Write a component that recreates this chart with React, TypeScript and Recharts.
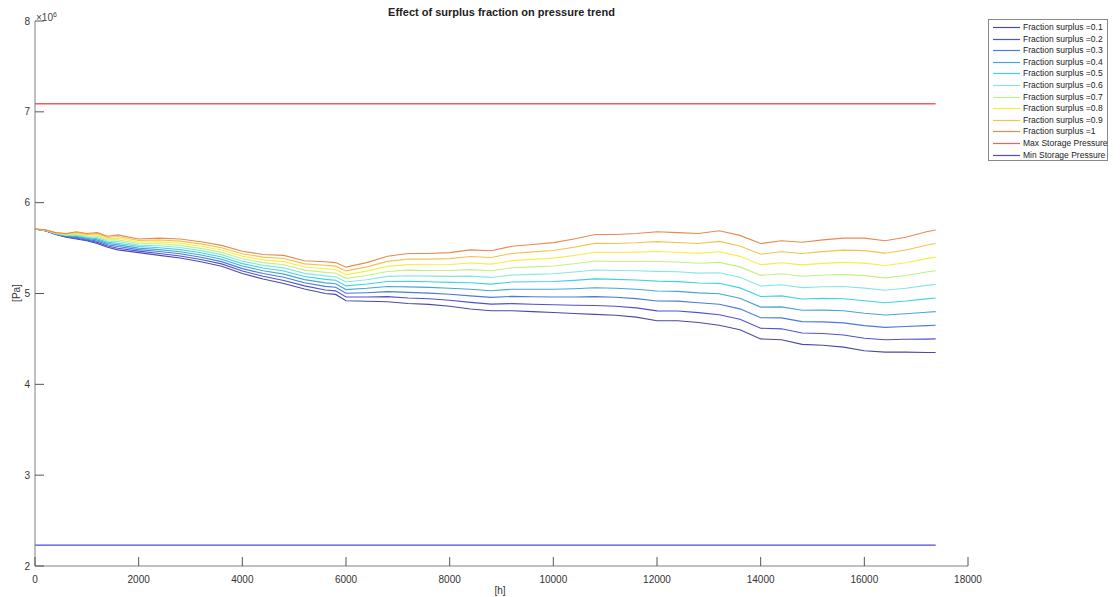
import React from "react";
import { LineChart, Line, XAxis, YAxis, Legend } from "recharts";

// hours
const hours = [0,200,400,600,800,1000,1200,1400,1600,2000,2400,2800,3200,3600,4000,4400,4800,5200,5600,5800,6000,6400,6800,7200,7600,8000,8400,8800,9200,9600,10000,10400,10800,11200,11600,12000,12400,12800,13200,13600,14000,14400,14800,15200,15600,16000,16400,16800,17200,17376];

// pressure in units of 1e6 Pa
const f01 = [5.71,5.69,5.65,5.62,5.60,5.58,5.55,5.51,5.48,5.45,5.42,5.39,5.35,5.30,5.22,5.16,5.11,5.05,5.00,4.99,4.92,4.915,4.91,4.89,4.88,4.86,4.83,4.81,4.81,4.80,4.79,4.78,4.77,4.76,4.74,4.70,4.70,4.68,4.65,4.60,4.50,4.49,4.44,4.43,4.41,4.37,4.355,4.355,4.35,4.35];
const f02 = [5.710,5.691,5.652,5.624,5.609,5.589,5.563,5.523,5.498,5.467,5.441,5.413,5.374,5.326,5.247,5.190,5.144,5.084,5.039,5.029,4.961,4.962,4.966,4.951,4.942,4.926,4.902,4.883,4.889,4.882,4.876,4.871,4.868,4.859,4.842,4.809,4.808,4.789,4.766,4.716,4.617,4.611,4.565,4.559,4.543,4.508,4.491,4.496,4.498,4.500];
const f03 = [5.710,5.692,5.654,5.629,5.618,5.598,5.577,5.537,5.517,5.483,5.462,5.437,5.399,5.351,5.274,5.220,5.179,5.119,5.078,5.068,5.002,5.009,5.021,5.012,5.004,4.991,4.974,4.957,4.968,4.964,4.961,4.962,4.966,4.958,4.944,4.918,4.916,4.898,4.881,4.831,4.733,4.732,4.690,4.688,4.677,4.646,4.627,4.636,4.646,4.650];
const f04 = [5.710,5.693,5.657,5.633,5.627,5.607,5.590,5.550,5.535,5.500,5.483,5.460,5.423,5.377,5.302,5.250,5.213,5.153,5.117,5.107,5.043,5.057,5.077,5.073,5.067,5.057,5.047,5.030,5.047,5.047,5.047,5.053,5.063,5.057,5.047,5.027,5.023,5.007,4.997,4.947,4.850,4.853,4.815,4.817,4.810,4.783,4.763,4.777,4.793,4.800];
const f05 = [5.710,5.694,5.659,5.638,5.636,5.616,5.603,5.563,5.553,5.517,5.504,5.483,5.448,5.402,5.329,5.280,5.248,5.188,5.156,5.146,5.084,5.104,5.132,5.134,5.129,5.122,5.119,5.103,5.126,5.129,5.132,5.144,5.161,5.156,5.149,5.136,5.131,5.116,5.112,5.062,4.967,4.974,4.940,4.946,4.943,4.921,4.899,4.917,4.941,4.950];
const f06 = [5.710,5.696,5.661,5.642,5.644,5.624,5.617,5.577,5.572,5.533,5.526,5.507,5.472,5.428,5.356,5.310,5.282,5.222,5.194,5.184,5.126,5.151,5.188,5.196,5.191,5.188,5.191,5.177,5.204,5.211,5.218,5.236,5.259,5.254,5.251,5.244,5.239,5.224,5.228,5.178,5.083,5.096,5.065,5.074,5.077,5.059,5.036,5.058,5.089,5.100];
const f07 = [5.710,5.697,5.663,5.647,5.653,5.633,5.630,5.590,5.590,5.550,5.547,5.530,5.497,5.453,5.383,5.340,5.317,5.257,5.233,5.223,5.167,5.198,5.243,5.257,5.253,5.253,5.263,5.250,5.283,5.293,5.303,5.327,5.357,5.353,5.353,5.353,5.347,5.333,5.343,5.293,5.200,5.217,5.190,5.203,5.210,5.197,5.172,5.198,5.237,5.250];
const f08 = [5.710,5.698,5.666,5.651,5.662,5.642,5.643,5.603,5.608,5.567,5.568,5.553,5.521,5.479,5.411,5.370,5.351,5.291,5.272,5.262,5.208,5.246,5.299,5.318,5.316,5.319,5.336,5.323,5.362,5.376,5.389,5.418,5.454,5.452,5.456,5.462,5.454,5.442,5.459,5.409,5.317,5.338,5.315,5.332,5.343,5.334,5.308,5.339,5.384,5.400];
const f09 = [5.710,5.699,5.668,5.656,5.671,5.651,5.657,5.617,5.627,5.583,5.589,5.577,5.546,5.504,5.438,5.400,5.386,5.326,5.311,5.301,5.249,5.293,5.354,5.379,5.378,5.384,5.408,5.397,5.441,5.458,5.474,5.509,5.552,5.551,5.558,5.571,5.562,5.551,5.574,5.524,5.433,5.459,5.440,5.461,5.477,5.472,5.444,5.479,5.532,5.550];
const f10 = [5.71,5.70,5.67,5.66,5.68,5.66,5.67,5.63,5.645,5.60,5.61,5.60,5.57,5.53,5.465,5.43,5.42,5.36,5.35,5.34,5.29,5.34,5.41,5.44,5.44,5.45,5.48,5.47,5.52,5.54,5.56,5.60,5.65,5.65,5.66,5.68,5.67,5.66,5.69,5.64,5.55,5.58,5.565,5.59,5.61,5.61,5.58,5.62,5.68,5.70];

const maxStoragePressure = 7.09;
const minStoragePressure = 2.23;

const xTicks = [0,2000,4000,6000,8000,10000,12000,14000,16000,18000];
const yTicks = [2,3,4,5,6,7,8];

const seriesNames = ["Fraction surplus =0.1","Fraction surplus =0.2","Fraction surplus =0.3","Fraction surplus =0.4","Fraction surplus =0.5","Fraction surplus =0.6","Fraction surplus =0.7","Fraction surplus =0.8","Fraction surplus =0.9","Fraction surplus =1"];
const seriesValues = [f01,f02,f03,f04,f05,f06,f07,f08,f09,f10];
const seriesColors = ["#4a4aa6","#5050d2","#4a7ade","#46a6d6","#40d2e2","#84e8e0","#c6ee84","#f4ee48","#f4c24a","#e88a4e"];
const maxName = "Max Storage Pressure";
const minName = "Min Storage Pressure";
const maxColor = "#ec5f62";
const minColor = "#4a4ae6";

const legendNames = [...seriesNames, maxName, minName];
const legendColors = [...seriesColors, maxColor, minColor];

const rows = hours.map((h, i) => {
  const r: any = { h, maxP: maxStoragePressure, minP: minStoragePressure };
  seriesValues.forEach((arr, k) => { r["s" + k] = arr[i]; });
  return r;
});

const FONT = "'Liberation Sans', Arial, Helvetica, sans-serif";

const XTick = (props: any) => {
  const { x, y, payload } = props;
  return (
    <g>
      <line x1={x} y1={y} x2={x} y2={y - 9} stroke="#555" strokeWidth={1} />
      <text x={x} y={y + 13} textAnchor="middle" dominantBaseline="central" fontSize={10} fill="#333" fontFamily={FONT}>{payload.value}</text>
    </g>
  );
};

const YTick = (props: any) => {
  const { x, y, payload } = props;
  return (
    <g>
      <line x1={x} y1={y} x2={x + 9} y2={y} stroke="#555" strokeWidth={1} />
      <text x={x - 5} y={y} textAnchor="end" dominantBaseline="central" fontSize={10} fill="#333" fontFamily={FONT}>{payload.value}</text>
    </g>
  );
};

const LegendBox = (props: any) => {
  const payload = props.payload || [];
  const ordered = legendNames
    .map((n) => payload.find((p: any) => p.value === n))
    .filter(Boolean);
  return (
    <div style={{ width: 120, height: 142, border: "1px solid #8a8a8a", background: "#fff", boxSizing: "border-box", position: "relative" }}>
      {ordered.map((p: any, i: number) => {
        const color = legendColors[legendNames.indexOf(p.value)];
        return (
          <div key={i} style={{ position: "absolute", left: 0, top: 2 + i * 11.6, height: 11, width: 130, display: "flex", alignItems: "center", whiteSpace: "nowrap" }}>
            <svg width={27} height={11} style={{ marginLeft: 4, display: "block" }}>
              <line x1={0} y1={5.5} x2={27} y2={5.5} stroke={color} strokeWidth={1.2} />
            </svg>
            <span style={{ marginLeft: 3, fontSize: 8.5, color: "#222", fontFamily: FONT, lineHeight: "11px" }}>{p.value}</span>
          </div>
        );
      })}
    </div>
  );
};

export default function App() {
  return (
    <div style={{ position: "absolute", left: 0, top: 0, width: 1120, height: 597, background: "#fff", fontFamily: FONT }}>
      <LineChart width={1120} height={597} data={rows} margin={{ top: 21, right: 152, bottom: 0, left: 0 }}>
        <XAxis
          dataKey="h"
          type="number"
          domain={[0, 18000]}
          ticks={xTicks}
          interval={0}
          height={31}
          tickSize={0}
          tickMargin={0}
          tick={<XTick />}
          tickLine={false}
          axisLine={{ stroke: "#808080", strokeWidth: 1 }}
        />
        <YAxis
          type="number"
          domain={[2, 8]}
          ticks={yTicks}
          interval={0}
          width={35}
          tickSize={0}
          tickMargin={0}
          tick={<YTick />}
          tickLine={false}
          axisLine={{ stroke: "#808080", strokeWidth: 1 }}
          allowDataOverflow
        />
        {seriesNames.map((name, k) => (
          <Line key={name} type="linear" dataKey={"s" + k} name={name} stroke={seriesColors[k]} strokeWidth={1.1} dot={false} isAnimationActive={false} />
        ))}
        <Line type="linear" dataKey="maxP" name={maxName} stroke={maxColor} strokeWidth={1.5} dot={false} isAnimationActive={false} />
        <Line type="linear" dataKey="minP" name={minName} stroke={minColor} strokeWidth={1.3} dot={false} isAnimationActive={false} />
        <Legend
          layout="vertical"
          align="center"
          verticalAlign="middle"
          content={<LegendBox />}
          wrapperStyle={{ left: 988, top: 19, width: 120, height: 142, overflow: "visible" }}
        />
      </LineChart>
      <div style={{ position: "absolute", left: 0, width: 1003, top: 5, textAlign: "center", fontSize: 11, fontWeight: "bold", color: "#222", lineHeight: "14px" }}>
        Effect of surplus fraction on pressure trend
      </div>
      <div style={{ position: "absolute", left: 36, top: 9, fontSize: 10, color: "#444", lineHeight: "12px" }}>
        ×10<sup style={{ fontSize: 7, verticalAlign: "4px" }}>6</sup>
      </div>
      <div style={{ position: "absolute", left: 490, width: 20, top: 585, textAlign: "center", fontSize: 10, color: "#333", lineHeight: "12px" }}>
        [h]
      </div>
      <div style={{ position: "absolute", left: 17, top: 293, fontSize: 10, color: "#333", lineHeight: "12px", transform: "translate(-50%, -50%) rotate(-90deg)", whiteSpace: "nowrap" }}>
        [Pa]
      </div>
    </div>
  );
}
